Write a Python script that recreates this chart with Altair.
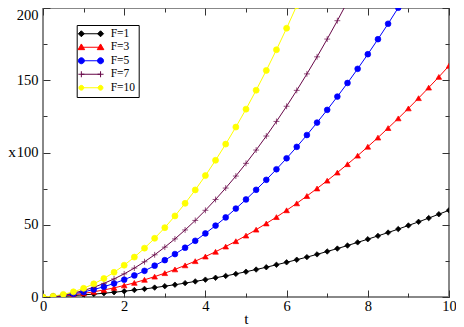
import altair as alt
import pandas as pd

# ---- data ----
series_names = ["F=1", "F=3", "F=5", "F=7", "F=10"]
series_colors = ["#000000", "#ff0000", "#0000ff", "#670748", "#ffff00"]

t_values = [0, 0.25, 0.5, 0.75, 1, 1.25, 1.5, 1.75, 2, 2.25, 2.5, 2.75, 3, 3.25,
            3.5, 3.75, 4, 4.25, 4.5, 4.75, 5, 5.25, 5.5, 5.75, 6, 6.25, 6.5, 6.75,
            7, 7.25, 7.5, 7.75, 8, 8.25, 8.5, 8.75, 9, 9.25, 9.5, 9.75, 10]

x_F1 = [0, 0.3, 0.6, 1.0, 1.5, 2.0, 2.6, 3.3, 4.0, 4.8, 5.6, 6.5, 7.5, 8.5, 9.6,
        10.8, 12.0, 13.3, 14.6, 16.0, 17.5, 19.0, 20.6, 22.3, 24.0, 25.8, 27.6,
        29.5, 31.5, 33.5, 35.6, 37.8, 40.0, 42.3, 44.6, 47.0, 49.5, 52.0, 54.6,
        57.3, 60.0]
x_F3 = [0, 0.3, 0.9, 1.6, 2.5, 3.6, 4.9, 6.3, 8.0, 9.8, 11.9, 14.1, 16.5, 19.1,
        21.9, 24.8, 28.0, 31.3, 34.9, 38.6, 42.5, 46.6, 50.9, 55.3, 60.0, 64.8,
        69.9, 75.1, 80.5, 86.1, 91.9, 97.8, 104.0, 110.3, 116.9, 123.6, 130.5,
        137.6, 144.9, 152.3, 160.0]
x_F5 = [0, 0.4, 1.1, 2.2, 3.5, 5.2, 7.1, 9.4, 12.0, 14.9, 18.1, 21.7, 25.5, 29.7,
        34.1, 38.9, 44.0, 49.4, 55.1, 61.2, 67.5, 74.2, 81.1, 88.4, 96.0, 103.9,
        112.1, 120.7, 129.5, 138.7, 148.1, 157.9, 168.0, 178.4, 189.1, 200.2, 211.5]
x_F7 = [0, 0.5, 1.4, 2.7, 4.5, 6.7, 9.4, 12.5, 16.0, 20.0, 24.4, 29.2, 34.5, 40.2,
        46.4, 53.0, 60.0, 67.5, 75.4, 83.7, 92.5, 101.7, 111.4, 121.5, 132.0,
        143.0, 154.4, 166.2, 178.5, 191.2, 204.4, 218.0]
x_F10 = [0, 0.6, 1.8, 3.6, 6.0, 9.1, 12.8, 17.1, 22.0, 27.6, 33.8, 40.6, 48.0,
         56.1, 64.8, 74.1, 84.0, 94.6, 105.8, 117.6, 130.0, 143.1, 156.8, 171.1,
         186.0, 201.6, 217.8]

x_major = [0, 2, 4, 6, 8, 10]
x_minor = [1, 3, 5, 7, 9]
y_major = [0, 50, 100, 150, 200]
y_minor = [25, 75, 125, 175]

rows = []
for name, ys in zip(series_names, [x_F1, x_F3, x_F5, x_F7, x_F10]):
    for t, y in zip(t_values, ys):
        rows.append({"t": t, "x": y, "F": name})
df = pd.DataFrame(rows)

FONT = "Liberation Serif, Times New Roman, Times, serif"
TICK = "#333333"
PAD_L, PAD_R = 35, 7
W, H = 448 - PAD_L - PAD_R, 289

x_scale = alt.Scale(domain=[0, 10], nice=False, zero=False)
y_scale = alt.Scale(domain=[0, 200], nice=False, zero=False)


def axis(orient, values, size, labels=False, title=None, lp=0, **extra):
    kw = dict(orient=orient, values=values, tickSize={"expr": str(-size)},
              labels=labels, domain=False, grid=False, tickColor=TICK,
              tickWidth=1, title=title)
    if labels:
        kw.update(labelFont=FONT, labelFontSize=14.5, labelColor="black",
                  labelPadding=lp, labelOverlap=False, labelFlush=False)
    if title:
        kw.update(titleFont=FONT, titleFontSize=15.5, titleFontWeight="normal",
                  titleColor="black", titleBaseline="middle", titleAlign="center")
    kw.update(extra)
    return alt.Axis(**kw)


# shapes for data markers
data_shapes = ["diamond", "triangle-up", "circle", "M-1,0L1,0M0,-1L0,1", "circle"]
data_sizes = [30, 36, 34, 32, 22]


def circle(cx, r):
    return (f"M{cx - r},0A{r},{r},0,1,1,{cx + r},0"
            f"A{r},{r},0,1,1,{cx - r},0Z")


L = 3.2
line_path = f"M{-L},0L{L},0"
legend_shapes = [
    line_path + "".join(f"M{c},-1L{c + 1},0L{c},1L{c - 1},0Z" for c in (-L, L)),
    line_path + "".join(f"M{c},-1.1L{c + 1.1},0.8L{c - 1.1},0.8Z" for c in (-L, L)),
    line_path + circle(-L, 1.0) + circle(L, 1.0),
    line_path + "".join(f"M{c - 1},0L{c + 1},0M{c},-1L{c},1" for c in (-L, L)),
    line_path + circle(-L, 0.8) + circle(L, 0.8),
]

color_scale = alt.Scale(domain=series_names, range=series_colors)

lines = alt.Chart(df).mark_line(strokeWidth=1, clip=True).encode(
    x=alt.X("t:Q", scale=x_scale,
            axis=axis("bottom", x_major, 7, True, "t", lp=9,
                      titleX=W / 2, titleY=21, titleAngle=0)),
    y=alt.Y("x:Q", scale=y_scale,
            axis=axis("left", y_major, 7, True, "x", lp=12,
                      titleX=-31.5, titleY=H / 2 - 1, titleAngle=0,
                      labelBaseline={"condition": {"test": "datum.value == 200",
                                                   "value": "top"},
                                     "value": "middle"})),
    color=alt.Color("F:N", scale=color_scale, legend=None, sort=series_names),
)

points = alt.Chart(df).mark_point(filled=True, clip=True, strokeWidth=0.7, opacity=1).encode(
    x=alt.X("t:Q", scale=x_scale, axis=axis("bottom", x_minor, 4)),
    y=alt.Y("x:Q", scale=y_scale, axis=axis("left", y_minor, 4)),
    color=alt.Color("F:N", scale=color_scale, legend=None, sort=series_names),
    stroke=alt.Stroke("F:N", scale=color_scale, legend=None, sort=series_names),
    shape=alt.Shape("F:N", scale=alt.Scale(domain=series_names, range=data_shapes),
                    legend=None, sort=series_names),
    size=alt.Size("F:N", scale=alt.Scale(domain=series_names, range=data_sizes),
                  legend=None, sort=series_names),
)

leg = alt.Legend(orient="none", legendX=33.7, legendY=17, title=None,
                 labelFont=FONT, labelFontSize=11.5, labelColor="black",
                 strokeColor="black", fillColor="white", padding=3,
                 symbolOffset=5.5, labelOffset=14, symbolSize=36,
                 symbolStrokeWidth=1, rowPadding=0.5, direction="vertical")

legend_layer = alt.Chart(df).transform_filter("datum.t < 0").mark_point(
    filled=True, opacity=1, strokeWidth=1, size=36
).encode(
    x=alt.X("t:Q", scale=x_scale, axis=axis("top", x_major, 7)),
    y=alt.Y("x:Q", scale=y_scale, axis=axis("right", y_major, 7)),
    color=alt.Color("F:N", scale=color_scale, legend=leg, sort=series_names),
    stroke=alt.Stroke("F:N", scale=color_scale, legend=leg, sort=series_names),
    shape=alt.Shape("F:N", scale=alt.Scale(domain=series_names, range=legend_shapes),
                    legend=leg, sort=series_names),
)

minor_top_right = alt.Chart(df).transform_filter("datum.t < 0").mark_point(opacity=0).encode(
    x=alt.X("t:Q", scale=x_scale, axis=axis("top", x_minor, 4)),
    y=alt.Y("x:Q", scale=y_scale, axis=axis("right", y_minor, 4)),
)

chart = alt.layer(lines, points, legend_layer, minor_top_right).resolve_scale(
    color="independent", stroke="independent", shape="independent", size="independent"
).resolve_axis(
    x="independent", y="independent"
).properties(
    width=W, height=H,
    autosize=alt.AutoSizeParams(type="none"),
    padding={"left": PAD_L, "top": 0, "right": PAD_R, "bottom": 30},
).configure_view(
    stroke="#888888", strokeWidth=2
)

chart.save("out.html", embed_options={"renderer": "svg", "actions": False})
